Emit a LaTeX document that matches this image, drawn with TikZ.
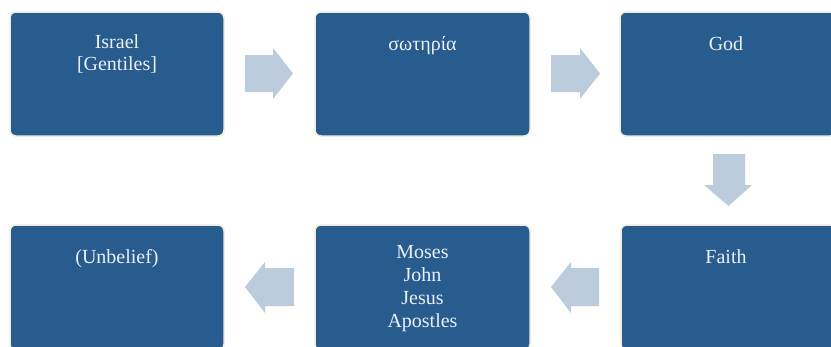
\documentclass[tikz,border=0pt]{standalone}
\usepackage{fontspec}
\setmainfont{Liberation Serif}
\newfontfamily\boxfont{Liberation Serif}
\definecolor{boxblue}{HTML}{285C8F}
\definecolor{arrowblue}{HTML}{BDCCDC}
\definecolor{boxedge}{HTML}{EEEBDF}
\definecolor{textwhite}{HTML}{EAF0F6}
\begin{document}
\begin{tikzpicture}[x=1pt,y=-1pt,
  stepbox/.style={draw=boxedge,line width=1.5pt,fill=boxblue,rounded corners=6pt},
  steptext/.style={anchor=north,inner sep=0pt,align=center,text=textwhite,
    font=\boxfont\fontsize{20}{22.8}\selectfont,execute at begin node=\strut},
  blockarrow/.style={fill=arrowblue,draw=none}]
\useasboundingbox (0,0) rectangle (831,346);
\fill[white] (0,0) rectangle (831,346);
% boxes
\draw[stepbox] (10,12) rectangle (224,136);
\draw[stepbox] (315,12) rectangle (530,136);
\draw[stepbox] (620,12) rectangle (836,136);
\draw[stepbox] (10,225) rectangle (224,350);
\draw[stepbox] (315,225) rectangle (530,350);
\draw[stepbox] (621,225) rectangle (836,350);
% texts
\node[steptext] (t1) at (117,34) {Israel\\{[Gentiles]}};
\node[steptext] (t2) at (422.5,34) {σωτηρία};
\node[steptext] (t3) at (726,34) {God};
\node[steptext] (t4) at (726,247) {Faith};
\node[steptext] (t5) at (422.5,245.5) {Moses\\John\\Jesus\\Apostles};
\node[steptext] (t6) at (117,247) {(Unbelief)};
% block arrows
\fill[blockarrow] (245,55) -- (273,55) -- (273,48) -- (293,73.5) -- (273,99) -- (273,92) -- (245,92) -- cycle;
\fill[blockarrow] (551,55) -- (580,55) -- (580,48) -- (600,73.5) -- (580,99) -- (580,92) -- (551,92) -- cycle;
\fill[blockarrow] (713,154) -- (745,154) -- (745,185) -- (752,185) -- (728.5,206) -- (704,185) -- (713,185) -- cycle;
\fill[blockarrow] (599,268) -- (571,268) -- (571,262) -- (551,287) -- (571,313) -- (571,306) -- (599,306) -- cycle;
\fill[blockarrow] (294,268) -- (265,268) -- (265,262) -- (245,287) -- (265,313) -- (265,306) -- (294,306) -- cycle;
\end{tikzpicture}
\end{document}
